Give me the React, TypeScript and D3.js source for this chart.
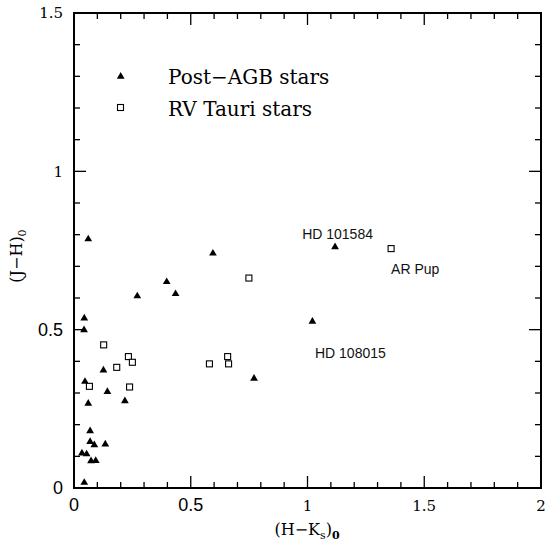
import React from "react";
import * as d3 from "d3";

const postAGB_HK = [0.061, 0.397, 0.435, 0.271, 0.044, 0.043, 0.126, 0.047, 0.143, 0.061, 0.218, 0.069, 0.069, 0.087, 0.134, 0.034, 0.054, 0.073, 0.093, 0.044, 0.595, 1.118, 1.021, 0.771];
const postAGB_JH = [0.786, 0.651, 0.613, 0.606, 0.536, 0.499, 0.372, 0.336, 0.304, 0.267, 0.275, 0.180, 0.146, 0.136, 0.138, 0.110, 0.107, 0.085, 0.086, 0.017, 0.741, 0.761, 0.526, 0.346];
const rvTau_HK = [0.127, 0.233, 0.250, 0.183, 0.066, 0.238, 0.749, 0.658, 0.662, 0.580, 1.358];
const rvTau_JH = [0.452, 0.415, 0.397, 0.381, 0.321, 0.319, 0.663, 0.415, 0.392, 0.392, 0.756];

const xTickLabels = ["0", "0.5", "1", "1.5", "2"];
const yTickLabels = ["0", "0.5", "1", "1.5"];
const annotations = [
  { text: "HD 101584", hk: 0.977, jh: 0.786 },
  { text: "AR Pup", hk: 1.358, jh: 0.677 },
  { text: "HD 108015", hk: 1.032, jh: 0.411 },
];
const legendItems = ["Post\u2212AGB stars", "RV Tauri stars"];

const W = 546, H = 544;
const L = 74, R = 541, T = 13, B = 488;
const SERIF = "'DejaVu Serif', serif";
const SANS = "'Liberation Sans', Arial, sans-serif";

export default function App() {
  const x = d3.scaleLinear().domain([0, 2]).range([L, R]);
  const y = d3.scaleLinear().domain([0, 1.5]).range([B, T]);
  const xMinor = d3.range(0, 21).map((i) => i / 10);
  const yMinor = d3.range(0, 16).map((i) => i / 10);
  const isMajor = (v: number) => Math.abs(v * 2 - Math.round(v * 2)) < 1e-6;
  const tri = d3.symbol().type(d3.symbolTriangle).size(26)();
  const fontFor = (s: string) => (s === "0" || s === "0.5" ? SANS : SERIF);
  const sizeFor = (s: string) => (s === "0" || s === "0.5" ? 18 : 15);

  return (
    <svg width={W} height={H} style={{ position: "absolute", left: 0, top: 0, background: "#fff" }}>
      <rect x={0} y={0} width={W} height={H} fill="#fff" />
      {/* ticks */}
      {xMinor.map((v, i) => {
        const len = isMajor(v) ? 12 : 6;
        return (
          <g key={"xt" + i} stroke="#000" strokeWidth={1.3}>
            <line x1={x(v)} x2={x(v)} y1={B} y2={B - len} />
            <line x1={x(v)} x2={x(v)} y1={T} y2={T + len} />
          </g>
        );
      })}
      {yMinor.map((v, i) => {
        const len = isMajor(v) ? 12 : 6;
        return (
          <g key={"yt" + i} stroke="#000" strokeWidth={1.3}>
            <line x1={L} x2={L + len} y1={y(v)} y2={y(v)} />
            <line x1={R} x2={R - len} y1={y(v)} y2={y(v)} />
          </g>
        );
      })}
      <rect x={L} y={T} width={R - L} height={B - T} fill="none" stroke="#000" strokeWidth={2} />
      {/* tick labels */}
      {xTickLabels.map((s) => (
        <text key={"xl" + s} x={x(+s)} y={511} textAnchor="middle" fontFamily={fontFor(s)} fontSize={sizeFor(s)}>
          {s}
        </text>
      ))}
      {yTickLabels.map((s) => (
        <text key={"yl" + s} x={63} y={y(+s)} dy="0.36em" textAnchor="end" fontFamily={fontFor(s)} fontSize={sizeFor(s)}>
          {s}
        </text>
      ))}
      {/* axis titles */}
      <text x={307} y={535} textAnchor="middle" fontFamily={SERIF} fontSize={16}>
        (H{"\u2212"}K<tspan fontSize={11} dy={4}>s</tspan>
        <tspan dy={-4}>)</tspan>
        <tspan fontSize={11} dy={4} fontWeight="bold">0</tspan>
      </text>
      <text transform={`translate(22,256) rotate(-90)`} textAnchor="middle" fontFamily={SERIF} fontSize={16}>
        (J{"\u2212"}H)<tspan fontSize={11} dy={4}>0</tspan>
      </text>
      {/* legend */}
      <path d={tri} transform={`translate(120.7,76.5)`} fill="#000" />
      <text x={168} y={84} fontFamily={SERIF} fontSize={20}>{legendItems[0]}</text>
      <rect x={117.5} y={104.5} width={6} height={6} fill="#fff" stroke="#000" strokeWidth={1.1} />
      <text x={168} y={116} fontFamily={SERIF} fontSize={20}>{legendItems[1]}</text>
      {/* data */}
      {postAGB_HK.map((v, i) => (
        <path key={"p" + i} d={tri} transform={`translate(${x(v)},${y(postAGB_JH[i])})`} fill="#000" />
      ))}
      {rvTau_HK.map((v, i) => (
        <rect key={"r" + i} x={x(v) - 3} y={y(rvTau_JH[i]) - 3} width={6} height={6} fill="#fff" stroke="#000" strokeWidth={1.1} />
      ))}
      {/* annotations */}
      {annotations.map((a) => (
        <text key={a.text} x={x(a.hk)} y={y(a.jh)} fontFamily={SANS} fontSize={14} fill="#111">
          {a.text}
        </text>
      ))}
    </svg>
  );
}
